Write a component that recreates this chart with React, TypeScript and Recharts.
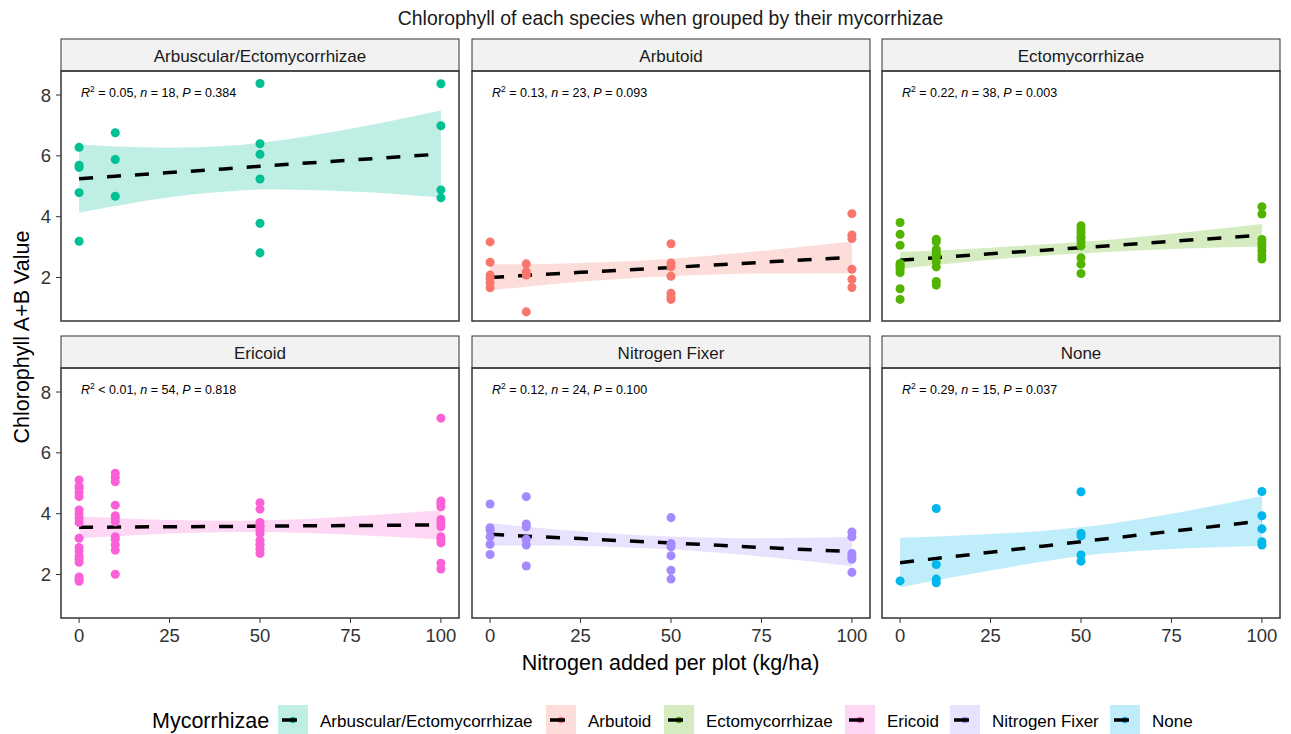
import { Area, ComposedChart, Line, Scatter, XAxis, YAxis } from "recharts";

// nitrogen doses (kg/ha) where species were sampled
const doses = [0, 10, 50, 100];
const bandX = [0, 10, 25, 40, 50, 75, 100];
const xTicks = [0, 25, 50, 75, 100];
const yTicks = [2, 4, 6, 8];

const groups = [
  "Arbuscular/Ectomycorrhizae",
  "Arbutoid",
  "Ectomycorrhizae",
  "Ericoid",
  "Nitrogen Fixer",
  "None",
];
const colors = ["#00C094", "#F8766D", "#53B400", "#FB61D7", "#A58AFF", "#00B6EB"];

// chlorophyll values, one inner array per dose
const arbEctoPts = [
  [6.28, 5.69, 5.62, 4.79, 3.19],
  [6.76, 5.88, 4.67],
  [8.38, 6.4, 6.05, 5.24, 3.78, 2.81],
  [8.37, 6.99, 4.88, 4.62],
];
const arbutoidPts = [
  [3.17, 2.5, 2.08, 1.97, 1.83, 1.66],
  [2.45, 2.19, 2.08, 0.87],
  [3.11, 2.48, 2.35, 2.04, 1.48, 1.37, 1.28],
  [4.1, 3.4, 3.28, 2.27, 1.94, 1.67],
];
const ectoPts = [
  [3.81, 3.42, 3.06, 2.46, 2.4, 2.35, 2.27, 2.16, 1.63, 1.28],
  [3.26, 3.17, 2.92, 2.81, 2.75, 2.68, 2.52, 2.35, 1.87, 1.75],
  [3.7, 3.59, 3.47, 3.34, 3.28, 3.17, 3.04, 2.65, 2.44, 2.13],
  [4.33, 4.09, 3.25, 3.12, 3.01, 2.88, 2.74, 2.61],
];
const ericoidPts = [
  [5.11, 4.9, 4.83, 4.7, 4.56, 4.12, 3.99, 3.85, 3.71, 3.19, 2.89, 2.77, 2.6, 2.51, 2.4, 1.92, 1.85, 1.78],
  [5.33, 5.19, 5.05, 4.28, 3.93, 3.85, 3.73, 3.24, 3.15, 2.97, 2.8, 2.01],
  [4.36, 4.15, 3.71, 3.6, 3.57, 3.46, 3.35, 3.13, 3.0, 2.97, 2.83, 2.69],
  [7.14, 4.42, 4.33, 4.23, 3.81, 3.7, 3.57, 3.24, 3.15, 3.04, 2.37, 2.18],
];
const nFixerPts = [
  [4.32, 3.54, 3.46, 3.24, 2.99, 2.66],
  [4.56, 3.66, 3.57, 3.16, 2.97, 2.28],
  [3.87, 3.02, 2.91, 2.62, 2.14, 1.85],
  [3.4, 3.24, 2.69, 2.58, 2.5, 2.07],
];
const nonePts = [
  [1.79],
  [4.17, 2.33, 1.85, 1.73],
  [4.72, 3.35, 3.27, 2.64, 2.44],
  [4.73, 3.93, 3.5, 3.08, 2.97],
];

// fitted line and 95% band at bandX
const arbEctoFit = [5.25, 5.33, 5.45, 5.57, 5.66, 5.86, 6.06];
const arbEctoLo = [4.13, 4.35, 4.64, 4.82, 4.89, 4.83, 4.63];
const arbEctoHi = [6.37, 6.31, 6.27, 6.32, 6.43, 6.89, 7.49];
const arbutoidFit = [2.0, 2.07, 2.17, 2.26, 2.33, 2.5, 2.66];
const arbutoidLo = [1.57, 1.7, 1.86, 1.98, 2.04, 2.13, 2.14];
const arbutoidHi = [2.43, 2.44, 2.48, 2.54, 2.62, 2.87, 3.18];
const ectoFit = [2.57, 2.65, 2.78, 2.9, 2.98, 3.19, 3.39];
const ectoLo = [2.29, 2.41, 2.58, 2.72, 2.79, 2.94, 3.02];
const ectoHi = [2.85, 2.89, 2.98, 3.09, 3.17, 3.44, 3.76];
const ericoidFit = [3.55, 3.56, 3.57, 3.58, 3.59, 3.61, 3.63];
const ericoidLo = [3.19, 3.26, 3.35, 3.39, 3.4, 3.31, 3.15];
const ericoidHi = [3.91, 3.86, 3.79, 3.77, 3.78, 3.91, 4.11];
const nFixerFit = [3.32, 3.26, 3.18, 3.09, 3.04, 2.89, 2.75];
const nFixerLo = [2.95, 2.95, 2.94, 2.88, 2.83, 2.59, 2.27];
const nFixerHi = [3.69, 3.57, 3.42, 3.3, 3.25, 3.19, 3.23];
const noneFit = [2.39, 2.53, 2.73, 2.94, 3.08, 3.42, 3.76];
const noneLo = [1.57, 1.81, 2.13, 2.44, 2.61, 2.84, 2.94];
const noneHi = [3.21, 3.25, 3.33, 3.44, 3.55, 4.0, 4.58];

// regression labels
const r2Ops = ["=", "=", "=", "<", "=", "="];
const r2Vals = ["0.05", "0.13", "0.22", "0.01", "0.12", "0.29"];
const nVals = [18, 23, 38, 54, 24, 15];
const pVals = ["0.384", "0.093", "0.003", "0.818", "0.100", "0.037"];

const allPts = [arbEctoPts, arbutoidPts, ectoPts, ericoidPts, nFixerPts, nonePts];
const allFit = [arbEctoFit, arbutoidFit, ectoFit, ericoidFit, nFixerFit, noneFit];
const allLo = [arbEctoLo, arbutoidLo, ectoLo, ericoidLo, nFixerLo, noneLo];
const allHi = [arbEctoHi, arbutoidHi, ectoHi, ericoidHi, nFixerHi, noneHi];

const FONT = "'Liberation Sans', Arial, sans-serif";
const PW = 398;
const PH = 250;
const colLeft = [61, 472, 882];
const rowTop = [71, 368];
const Y_W = 45;
const X_H = 40;
const legendKeyX = [278, 546, 664, 845, 950, 1110];

function Panel({ idx }: { idx: number }) {
  const col = idx % 3;
  const row = Math.floor(idx / 3);
  const showY = col === 0;
  const showX = row === 1;
  const color = colors[idx];
  const data = bandX.map((x, i) => ({
    x,
    band: [allLo[idx][i], allHi[idx][i]],
    fit: allFit[idx][i],
  }));
  const pts = allPts[idx].flatMap((vals, i) => vals.map((y) => ({ x: doses[i], y })));
  return (
    <div
      style={{
        position: "absolute",
        left: showY ? colLeft[col] - Y_W : colLeft[col],
        top: rowTop[row],
      }}
    >
      <ComposedChart
        width={PW + (showY ? Y_W : 0)}
        height={PH + (showX ? X_H : 0)}
        data={data}
        margin={{ top: 0, right: 0, bottom: 0, left: 0 }}
      >
        <XAxis
          type="number"
          dataKey="x"
          domain={[-5, 105]}
          ticks={xTicks}
          allowDataOverflow
          hide={!showX}
          height={X_H}
          axisLine={false}
          tickSize={5}
          tickMargin={6}
          tickLine={{ stroke: "#333" }}
          tick={{ fill: "#333", fontSize: 18.5 }}
        />
        <YAxis
          type="number"
          domain={[0.57, 8.79]}
          ticks={yTicks}
          allowDataOverflow
          hide={!showY}
          width={Y_W}
          axisLine={false}
          tickSize={5}
          tickMargin={5}
          tickLine={{ stroke: "#333" }}
          tick={{ fill: "#333", fontSize: 18.5 }}
        />
        <Area
          dataKey="band"
          type="monotone"
          fill={color}
          fillOpacity={0.25}
          stroke="none"
          isAnimationActive={false}
        />
        <Scatter data={pts} dataKey="y" fill={color} isAnimationActive={false} />
        <Line
          dataKey="fit"
          type="linear"
          stroke="#000"
          strokeWidth={3.5}
          strokeDasharray="14 14"
          dot={false}
          isAnimationActive={false}
        />
      </ComposedChart>
    </div>
  );
}

function Overlay() {
  return (
    <svg
      width={1291}
      height={734}
      style={{ position: "absolute", left: 0, top: 0, pointerEvents: "none", fontFamily: FONT }}
    >
      <text x={670.5} y={25} textAnchor="middle" fontSize={19.4} fill="#1a1a1a">
        Chlorophyll of each species when grouped by their mycorrhizae
      </text>
      {groups.map((g, i) => {
        const x = colLeft[i % 3];
        const y = rowTop[Math.floor(i / 3)];
        return (
          <g key={g}>
            <rect x={x} y={y - 32} width={PW} height={32} fill="#F2F2F2" stroke="#333" strokeWidth={1} />
            <text x={x + PW / 2} y={y - 9} textAnchor="middle" fontSize={17} fill="#1a1a1a">
              {g}
            </text>
            <rect x={x} y={y} width={PW} height={PH} fill="none" stroke="#333" strokeWidth={1.5} />
            <text x={x + 20} y={y + 26} fontSize={12.5} fill="#000">
              <tspan fontStyle="italic">R</tspan>
              <tspan dy={-5} fontSize={8.5}>2</tspan>
              <tspan dy={5}>{` ${r2Ops[i]} ${r2Vals[i]}, `}</tspan>
              <tspan fontStyle="italic">n</tspan>
              <tspan>{` = ${nVals[i]}, `}</tspan>
              <tspan fontStyle="italic">P</tspan>
              <tspan>{` = ${pVals[i]}`}</tspan>
            </text>
          </g>
        );
      })}
      <text
        transform="translate(29,337) rotate(-90)"
        textAnchor="middle"
        fontSize={21.5}
        fill="#000"
      >
        Chlorophyll A+B Value
      </text>
      <text x={670.5} y={670} textAnchor="middle" fontSize={21.5} fill="#000">
        Nitrogen added per plot (kg/ha)
      </text>
      <text x={152} y={727.5} fontSize={21.5} fill="#000">
        Mycorrhizae
      </text>
      {groups.map((g, i) => {
        const kx = legendKeyX[i];
        return (
          <g key={"lg" + g}>
            <rect x={kx} y={705} width={30} height={30} fill={colors[i]} fillOpacity={0.25} />
            <circle cx={kx + 15} cy={720} r={3.3} fill={colors[i]} />
            <line x1={kx + 4} x2={kx + 19} y1={720} y2={720} stroke="#000" strokeWidth={3.5} />
            <text x={kx + 42} y={726.5} fontSize={17} fill="#000">
              {g}
            </text>
          </g>
        );
      })}
    </svg>
  );
}

export default function App() {
  return (
    <div
      style={{
        position: "absolute",
        left: 0,
        top: 0,
        width: 1291,
        height: 734,
        background: "#fff",
        fontFamily: FONT,
      }}
    >
      {groups.map((g, i) => (
        <Panel key={g} idx={i} />
      ))}
      <Overlay />
    </div>
  );
}
